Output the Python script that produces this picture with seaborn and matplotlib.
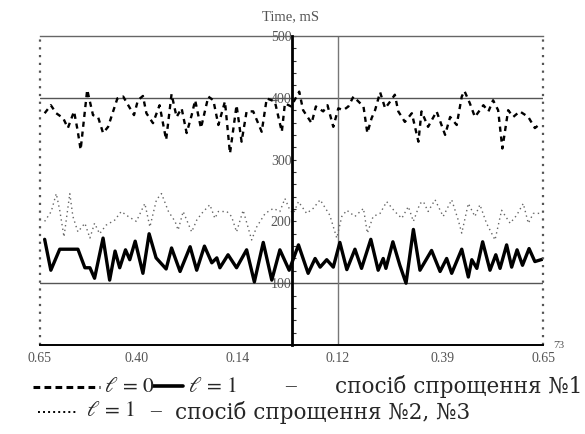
import matplotlib
matplotlib.use("Agg")
import matplotlib.pyplot as plt
from matplotlib.lines import Line2D
import seaborn as sns
import pandas as pd

# ---- data ----
solid_x = [-0.638, -0.622, -0.599, -0.552, -0.534, -0.521, -0.509, -0.487, -0.470, -0.456,
           -0.444, -0.429, -0.418, -0.404, -0.384, -0.368, -0.350, -0.324, -0.310, -0.288,
           -0.262, -0.245, -0.225, -0.206, -0.193, -0.185, -0.164, -0.142, -0.116, -0.096,
           -0.073, -0.051, -0.030, -0.006, 0.018, 0.043, 0.061, 0.074, 0.091, 0.108,
           0.125, 0.143, 0.164, 0.181, 0.205, 0.224, 0.237, 0.244, 0.262, 0.280,
           0.296, 0.315, 0.332, 0.362, 0.384, 0.401, 0.414, 0.440, 0.457, 0.466,
           0.479, 0.494, 0.513, 0.528, 0.539, 0.556, 0.569, 0.583, 0.597, 0.614,
           0.629, 0.650]
solid_y = [171, 121, 155, 155, 125, 125, 108, 173, 105, 152,
           125, 154, 138, 168, 116, 180, 141, 123, 157, 119,
           159, 121, 160, 133, 141, 125, 146, 125, 154, 102,
           166, 105, 154, 121, 162, 116, 140, 126, 138, 126,
           166, 122, 155, 124, 171, 121, 140, 124, 167, 129,
           100, 187, 121, 153, 119, 140, 116, 155, 110, 138,
           124, 167, 121, 146, 124, 162, 126, 154, 129, 156,
           135, 139]

dashed_x = [-0.638, -0.622, -0.608, -0.590, -0.578, -0.562, -0.553, -0.545, -0.528, -0.513,
            -0.500, -0.487, -0.474, -0.461, -0.450, -0.435, -0.422, -0.407, -0.397, -0.384,
            -0.375, -0.358, -0.341, -0.324, -0.310, -0.297, -0.284, -0.271, -0.258, -0.249,
            -0.234, -0.215, -0.202, -0.189, -0.172, -0.159, -0.142, -0.129, -0.116, -0.099,
            -0.077, -0.064, -0.043, -0.025, -0.017, -0.001, 0.020, 0.030, 0.052, 0.063,
            0.082, 0.093, 0.108, 0.121, 0.134, 0.147, 0.160, 0.173, 0.186, 0.196,
            0.207, 0.216, 0.229, 0.242, 0.255, 0.267, 0.276, 0.293, 0.311, 0.328,
            0.336, 0.353, 0.375, 0.397, 0.410, 0.427, 0.440, 0.447, 0.461, 0.474,
            0.496, 0.509, 0.521, 0.534, 0.545, 0.560, 0.573, 0.590, 0.612, 0.629,
            0.645]
dashed_y = [375, 388, 375, 367, 351, 378, 348, 316, 413, 372,
            369, 343, 353, 378, 399, 402, 388, 372, 396, 403,
            375, 359, 388, 332, 406, 369, 383, 343, 372, 396,
            351, 402, 396, 356, 394, 310, 388, 329, 378, 378,
            345, 399, 394, 345, 391, 386, 410, 380, 359, 386,
            378, 388, 353, 383, 380, 386, 402, 394, 386, 343,
            367, 380, 409, 383, 394, 405, 378, 361, 375, 329,
            378, 353, 378, 340, 369, 356, 402, 411, 391, 369,
            388, 378, 396, 380, 318, 380, 369, 378, 369, 351,
            359]

dotted_x = [-0.638, -0.621, -0.608, -0.599, -0.588, -0.573, -0.565, -0.552, -0.534, -0.521,
            -0.509, -0.496, -0.479, -0.457, -0.440, -0.422, -0.401, -0.379, -0.366, -0.349,
            -0.336, -0.318, -0.301, -0.293, -0.280, -0.258, -0.245, -0.232, -0.211, -0.198,
            -0.189, -0.167, -0.155, -0.142, -0.125, -0.103, -0.090, -0.068, -0.047, -0.030,
            -0.017, -0.004, 0.005, 0.018, 0.039, 0.056, 0.074, 0.099, 0.117, 0.130,
            0.143, 0.164, 0.186, 0.196, 0.211, 0.229, 0.246, 0.267, 0.285, 0.302,
            0.315, 0.332, 0.341, 0.353, 0.371, 0.392, 0.414, 0.431, 0.440, 0.457,
            0.474, 0.487, 0.504, 0.526, 0.543, 0.565, 0.582, 0.599, 0.612, 0.625,
            0.647]
dotted_y = [200, 216, 245, 218, 175, 245, 208, 183, 197, 173,
            197, 180, 194, 202, 216, 208, 200, 229, 191, 235,
            245, 216, 200, 186, 216, 183, 202, 213, 227, 205,
            216, 216, 208, 183, 218, 170, 191, 213, 221, 216,
            237, 218, 213, 232, 213, 221, 235, 210, 173, 208,
            218, 208, 221, 181, 208, 213, 232, 216, 205, 224,
            200, 229, 232, 216, 235, 208, 235, 202, 181, 229,
            208, 227, 197, 170, 218, 197, 210, 229, 197, 213,
            213]

y_ticks = [100, 200, 300, 400, 500]
x_ticks = [-0.65, -0.40, -0.14, 0.12, 0.39, 0.65]
x_tick_labels = ["0.65", "0.40", "0.14", "0.12", "0.39", "0.65"]

# ---- figure ----
sns.set_theme(style="white")
plt.rcParams['font.family'] = ['Liberation Serif', 'DejaVu Serif']
plt.rcParams['mathtext.fontset'] = 'stix'

W, H = 585.0, 434.0
fig = plt.figure(figsize=(5.85, 4.34), dpi=100)
ax = fig.add_axes([40 / W, 1 - 345 / H, 503 / W, 309 / H])

df_d = pd.DataFrame({"x": dashed_x, "y": dashed_y})
df_s = pd.DataFrame({"x": solid_x, "y": solid_y})
df_o = pd.DataFrame({"x": dotted_x, "y": dotted_y})

ax.axhline(400, color="#555555", lw=1.0, zorder=1)
ax.axhline(100, color="#555555", lw=1.0, zorder=1)
ax.axvline(0.12, color="#777777", lw=1.0, zorder=1)

sns.lineplot(data=df_o, x="x", y="y", ax=ax, color="#666666", lw=1.0,
             linestyle=(0, (1, 2.4)), estimator=None, sort=False)
sns.lineplot(data=df_d, x="x", y="y", ax=ax, color="black", lw=1.7,
             linestyle=(0, (2.2, 2.0)), estimator=None, sort=False)
sns.lineplot(data=df_s, x="x", y="y", ax=ax, color="black", lw=2.4,
             estimator=None, sort=False, solid_joinstyle="round")

ax.set_xlim(-0.65, 0.65)
ax.set_ylim(0, 500)
ax.set_xlabel("")
ax.set_ylabel("")

# center vertical axis
ax.spines['left'].set_position(('data', 0))
ax.spines['left'].set_linewidth(2.0)
ax.spines['left'].set_color("black")
ax.spines['left'].set_zorder(5)
ax.spines['right'].set_visible(False)
ax.spines['top'].set_color("#666666")
ax.spines['top'].set_linewidth(1.0)
ax.spines['bottom'].set_color("black")
ax.spines['bottom'].set_linewidth(1.4)

# dotted outer edges
ax.axvline(-0.65, color="#555555", lw=1.6, linestyle=(0, (1, 2.5)), clip_on=False)
ax.axvline(0.65, color="#555555", lw=1.6, linestyle=(0, (1, 2.5)), clip_on=False)

ax.set_yticks(y_ticks)
ax.set_yticklabels([str(v) for v in y_ticks])
ax.yaxis.set_minor_locator(matplotlib.ticker.MultipleLocator(20))
ax.tick_params(axis='y', which='both', direction='in', length=3, width=0.8,
               color="#333333", labelsize=10, labelcolor="#555555", pad=0,
               left=True)

ax.set_xticks(x_ticks)
ax.set_xticklabels(x_tick_labels)
ax.tick_params(axis='x', length=0, labelsize=10, labelcolor="#555555", pad=5)
ax.grid(False)

fig.text(291 / W, 1 - 17 / H, "Time, mS", ha="center", va="center", fontsize=10.5,
         color="#555555")
fig.text(559 / W, 1 - 346 / H, "73", ha="center", va="center", fontsize=8, color="#555555")

# ---- legend ----
FS = 15.5
CY = ['DejaVu Serif']
y1 = 1 - 387 / H
y2 = 1 - 412 / H
fig.add_artist(Line2D([33 / W, 100 / W], [y1, y1], color="black", lw=2.2,
                      linestyle=(0, (2.2, 1.4))))
fig.text(104 / W, y1, r"$\ell\,=\,0$", fontsize=FS, va="center", ha="left")
fig.add_artist(Line2D([153 / W, 183 / W], [y1 + 1 / H, y1 + 1 / H], color="black", lw=2.6))
fig.text(188 / W, y1, r"$\ell\,=\,1$", fontsize=FS, va="center", ha="left")
fig.text(285 / W, y1, "–", fontsize=FS, va="center", ha="left")
fig.text(582 / W, y1, "спосіб спрощення №1", fontsize=15.5, family=CY,
         va="center", ha="right")
fig.add_artist(Line2D([38 / W, 78 / W], [y2, y2], color="black", lw=1.4,
                      linestyle=(0, (1, 1.6))))
fig.text(86 / W, y2, r"$\ell\,=\,1$", fontsize=FS, va="center", ha="left")
fig.text(150 / W, y2, "–", fontsize=FS, va="center", ha="left")
fig.text(175 / W, y2, "спосіб спрощення №2, №3", fontsize=15.5, family=CY,
         va="center", ha="left")

fig.savefig("out.png", dpi=100)
